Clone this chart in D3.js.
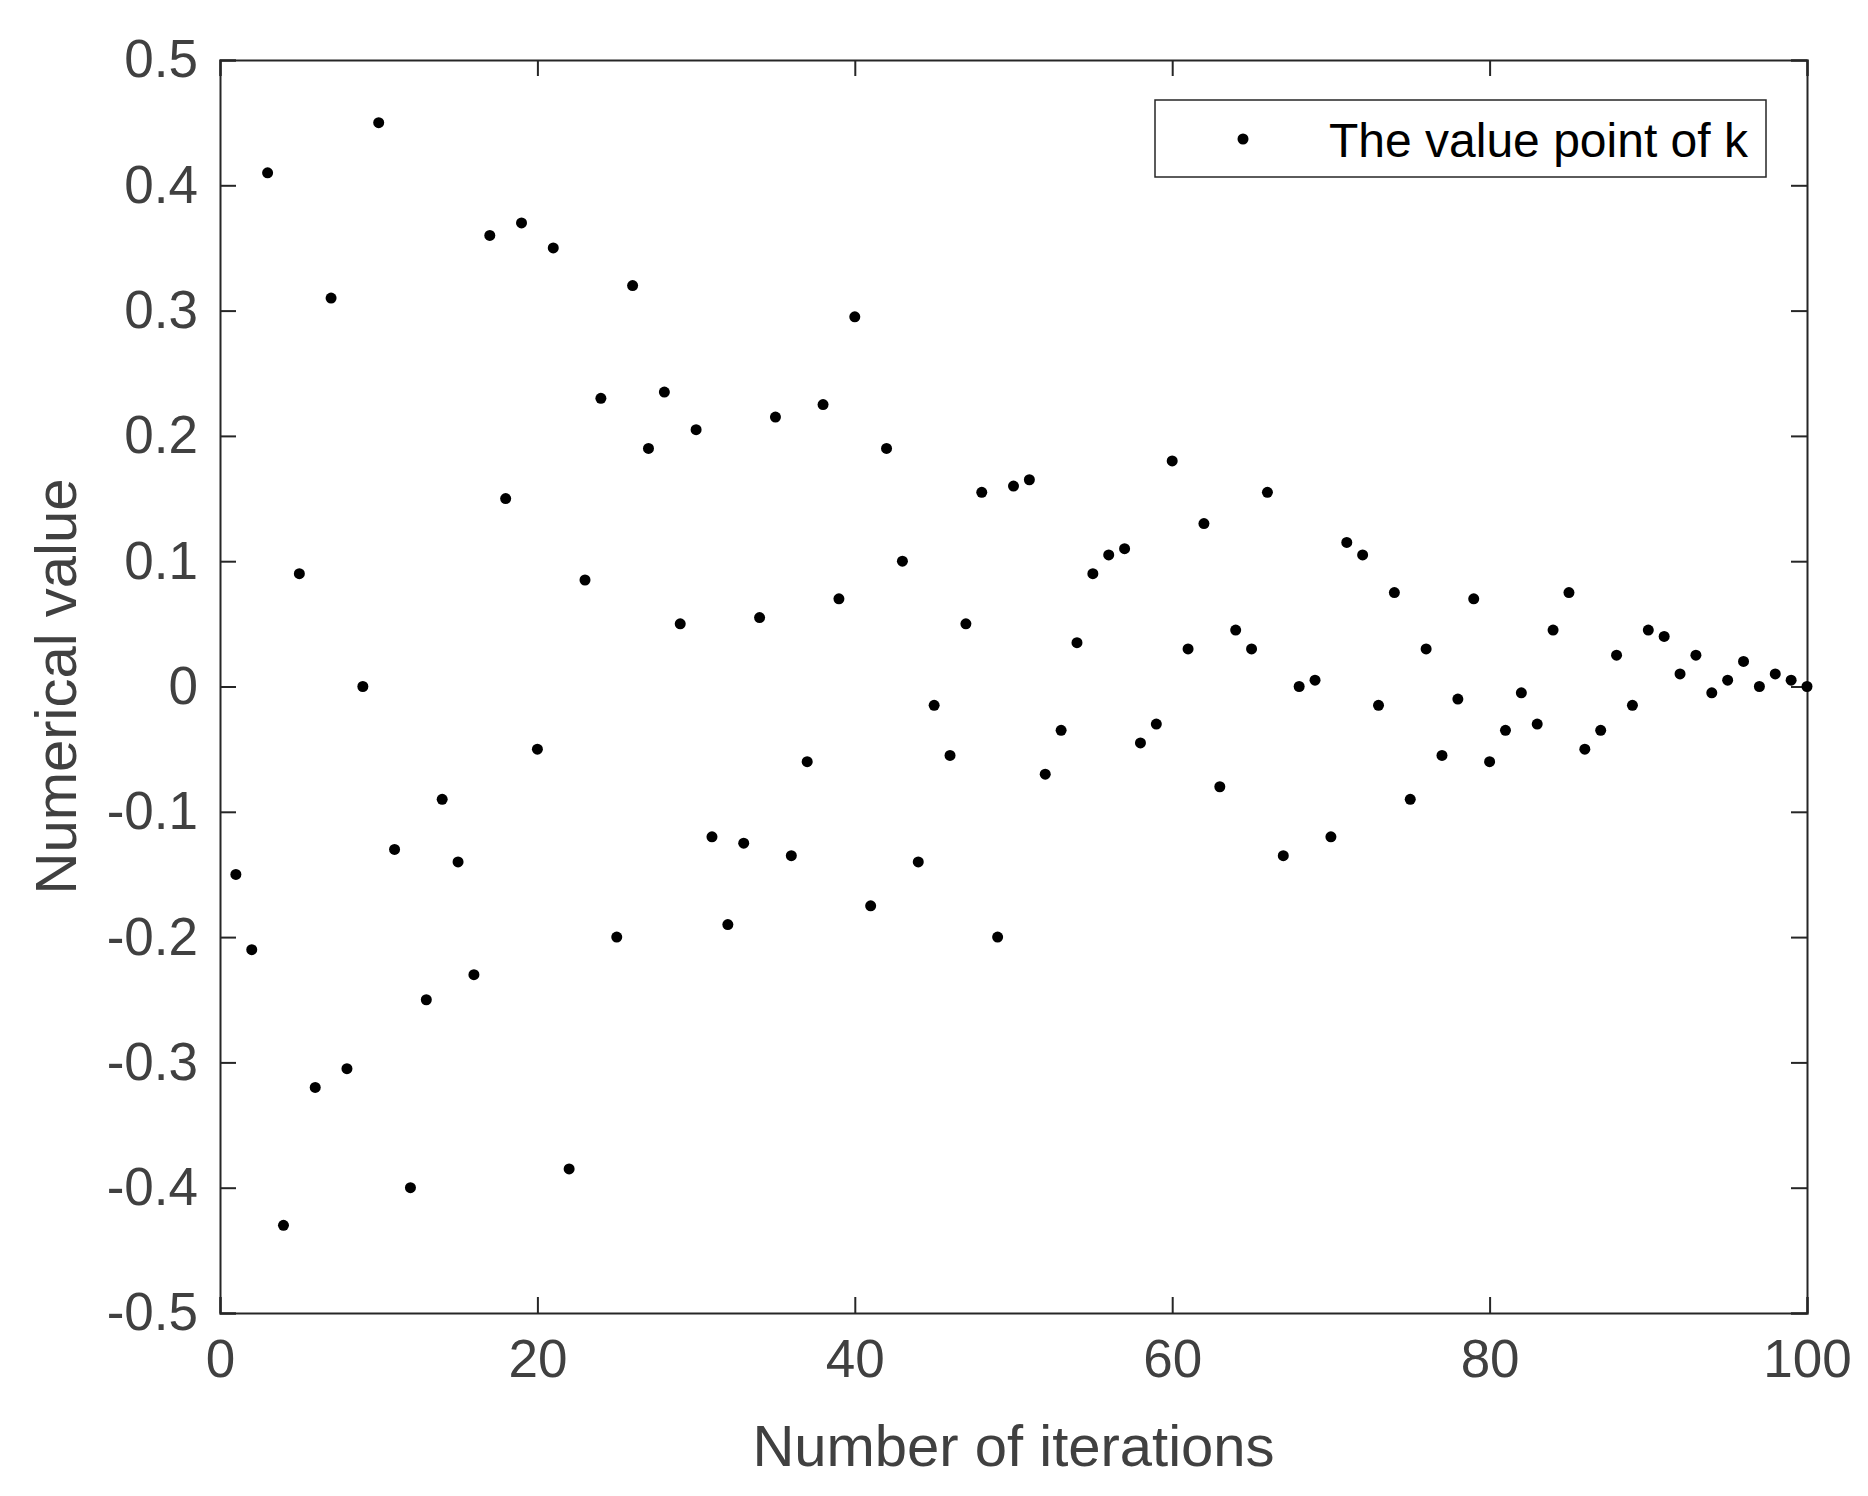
<!DOCTYPE html><html><head><meta charset="utf-8"><script src="https://d3js.org/d3.v7.min.js"></script>
<style>body{margin:0;background:#fff}</style></head><body><svg id="c" width="1868" height="1496"></svg><script>
const iterations = d3.range(1,101);
const kValues = [-0.15,-0.21,0.41,-0.43,0.09,-0.32,0.31,-0.305,0.0,0.45,
-0.13,-0.40,-0.25,-0.09,-0.14,-0.23,0.36,0.15,0.37,-0.05,
0.35,-0.385,0.085,0.23,-0.20,0.32,0.19,0.235,0.05,0.205,
-0.12,-0.19,-0.125,0.055,0.215,-0.135,-0.06,0.225,0.07,0.295,
-0.175,0.19,0.10,-0.14,-0.015,-0.055,0.05,0.155,-0.20,0.16,
0.165,-0.07,-0.035,0.035,0.09,0.105,0.11,-0.045,-0.03,0.18,
0.03,0.13,-0.08,0.045,0.03,0.155,-0.135,0.0,0.005,-0.12,
0.115,0.105,-0.015,0.075,-0.09,0.03,-0.055,-0.01,0.07,-0.06,
-0.035,-0.005,-0.03,0.045,0.075,-0.05,-0.035,0.025,-0.015,0.045,
0.04,0.01,0.025,-0.005,0.005,0.02,0.0,0.01,0.005,0.0];
const xTicks=[0,20,40,60,80,100];
const yTicks=[-0.5,-0.4,-0.3,-0.2,-0.1,0,0.1,0.2,0.3,0.4,0.5];
const L=220,R=1807,T=60,B=1313;
const svg=d3.select("#c");
const x=d3.scaleLinear().domain([0,100]).range([L,R]);
const y=d3.scaleLinear().domain([-0.5,0.5]).range([B,T]);
const fmt=d=>d===0?"0":String(d);
const font="Liberation Sans, Arial, sans-serif";
function style(g){g.selectAll("path").attr("stroke","#262626").attr("stroke-width",2);
 g.selectAll("line").attr("stroke","#262626").attr("stroke-width",2);
 g.selectAll("text").attr("fill","#404040").attr("font-size",53).attr("font-family",font);}
svg.append("g").attr("transform",`translate(0,${B})`).call(d3.axisBottom(x).tickValues(xTicks).tickSize(-16).tickPadding(26).tickFormat(fmt)).call(style);
svg.append("g").attr("transform",`translate(0,${T})`).call(d3.axisTop(x).tickValues(xTicks).tickSize(-16).tickFormat("")).call(style);
svg.append("g").attr("transform",`translate(${L},0)`).call(d3.axisLeft(y).tickValues(yTicks).tickSize(-16).tickPadding(22).tickFormat(fmt)).call(style);
svg.append("g").attr("transform",`translate(${R},0)`).call(d3.axisRight(y).tickValues(yTicks).tickSize(-16).tickFormat("")).call(style);
svg.append("g").selectAll("circle").data(iterations).join("circle")
 .attr("cx",d=>x(d)).attr("cy",(d,i)=>y(kValues[i])).attr("r",5.5).attr("fill","#000");
svg.append("text").attr("x",(L+R)/2).attr("y",1466).attr("text-anchor","middle").attr("font-size",58).attr("font-family",font).attr("fill","#404040").text("Number of iterations");
svg.append("text").attr("transform",`translate(76,${(T+B)/2}) rotate(-90)`).attr("text-anchor","middle").attr("font-size",58).attr("font-family",font).attr("fill","#404040").text("Numerical value");
const lg=svg.append("g");
lg.append("rect").attr("x",1155).attr("y",100).attr("width",611).attr("height",77).attr("fill","#fff").attr("stroke","#262626").attr("stroke-width",1.5);
lg.append("circle").attr("cx",1243).attr("cy",139).attr("r",5.5).attr("fill","#000");
lg.append("text").attr("x",1329).attr("y",157).attr("font-size",48).attr("font-family",font).attr("fill","#000").text("The value point of k");
</script></body></html>
